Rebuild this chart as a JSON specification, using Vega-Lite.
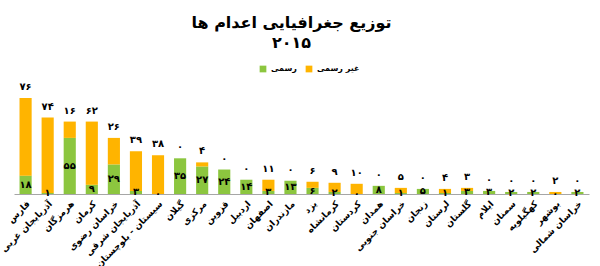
{
  "$schema": "https://vega.github.io/schema/vega-lite/v6.json",
  "width": 575,
  "height": 102,
  "autosize": {"type": "none"},
  "padding": {"left": 14, "top": 92, "right": 11, "bottom": 72},
  "background": "white",
  "title": {
    "text": "توزیع جغرافیایی اعدام ها",
    "subtitle": "۲۰۱۵",
    "font": "DejaVu Sans",
    "fontSize": 16,
    "fontWeight": "bold",
    "subtitleFont": "DejaVu Sans",
    "subtitleFontSize": 16,
    "subtitleFontWeight": "bold",
    "subtitleColor": "#000000",
    "subtitlePadding": 4,
    "anchor": "middle",
    "dx": -10,
    "color": "#000000",
    "offset": 14
  },
  "data": {
    "values": [
      {"p": "فارس", "t": "رسمی", "v": 18, "l": "۱۸"},
      {"p": "فارس", "t": "غیر رسمی", "v": 76, "l": "۷۶"},
      {"p": "آذربایجان غربی", "t": "رسمی", "v": 1, "l": "۱"},
      {"p": "آذربایجان غربی", "t": "غیر رسمی", "v": 74, "l": "۷۴"},
      {"p": "هرمزگان", "t": "رسمی", "v": 55, "l": "۵۵"},
      {"p": "هرمزگان", "t": "غیر رسمی", "v": 16, "l": "۱۶"},
      {"p": "کرمان", "t": "رسمی", "v": 9, "l": "۹"},
      {"p": "کرمان", "t": "غیر رسمی", "v": 62, "l": "۶۲"},
      {"p": "خراسان رضوی", "t": "رسمی", "v": 29, "l": "۲۹"},
      {"p": "خراسان رضوی", "t": "غیر رسمی", "v": 26, "l": "۲۶"},
      {"p": "آذربایجان شرقی", "t": "رسمی", "v": 3, "l": "۳"},
      {"p": "آذربایجان شرقی", "t": "غیر رسمی", "v": 39, "l": "۳۹"},
      {"p": "سیستان - بلوچستان", "t": "رسمی", "v": 0, "l": "۰"},
      {"p": "سیستان - بلوچستان", "t": "غیر رسمی", "v": 38, "l": "۳۸"},
      {"p": "گیلان", "t": "رسمی", "v": 35, "l": "۳۵"},
      {"p": "گیلان", "t": "غیر رسمی", "v": 0, "l": "۰"},
      {"p": "مرکزی", "t": "رسمی", "v": 27, "l": "۲۷"},
      {"p": "مرکزی", "t": "غیر رسمی", "v": 4, "l": "۴"},
      {"p": "قزوین", "t": "رسمی", "v": 24, "l": "۲۴"},
      {"p": "قزوین", "t": "غیر رسمی", "v": 0, "l": "۰"},
      {"p": "اردبیل", "t": "رسمی", "v": 14, "l": "۱۴"},
      {"p": "اردبیل", "t": "غیر رسمی", "v": 0, "l": "۰"},
      {"p": "اصفهان", "t": "رسمی", "v": 3, "l": "۳"},
      {"p": "اصفهان", "t": "غیر رسمی", "v": 11, "l": "۱۱"},
      {"p": "مازندران", "t": "رسمی", "v": 13, "l": "۱۳"},
      {"p": "مازندران", "t": "غیر رسمی", "v": 0, "l": "۰"},
      {"p": "یزد", "t": "رسمی", "v": 6, "l": "۶"},
      {"p": "یزد", "t": "غیر رسمی", "v": 6, "l": "۶"},
      {"p": "کرمانشاه", "t": "رسمی", "v": 2, "l": "۲"},
      {"p": "کرمانشاه", "t": "غیر رسمی", "v": 9, "l": "۹"},
      {"p": "کردستان", "t": "رسمی", "v": 0, "l": "۰"},
      {"p": "کردستان", "t": "غیر رسمی", "v": 10, "l": "۱۰"},
      {"p": "همدان", "t": "رسمی", "v": 8, "l": "۸"},
      {"p": "همدان", "t": "غیر رسمی", "v": 0, "l": "۰"},
      {"p": "خراسان جنوبی", "t": "رسمی", "v": 1, "l": "۱"},
      {"p": "خراسان جنوبی", "t": "غیر رسمی", "v": 5, "l": "۵"},
      {"p": "زنجان", "t": "رسمی", "v": 5, "l": "۵"},
      {"p": "زنجان", "t": "غیر رسمی", "v": 0, "l": "۰"},
      {"p": "لرستان", "t": "رسمی", "v": 1, "l": "۱"},
      {"p": "لرستان", "t": "غیر رسمی", "v": 4, "l": "۴"},
      {"p": "گلستان", "t": "رسمی", "v": 3, "l": "۳"},
      {"p": "گلستان", "t": "غیر رسمی", "v": 3, "l": "۳"},
      {"p": "ایلام", "t": "رسمی", "v": 3, "l": "۳"},
      {"p": "ایلام", "t": "غیر رسمی", "v": 0, "l": "۰"},
      {"p": "سمنان", "t": "رسمی", "v": 2, "l": "۲"},
      {"p": "سمنان", "t": "غیر رسمی", "v": 0, "l": "۰"},
      {"p": "کهگیلویه", "t": "رسمی", "v": 2, "l": "۲"},
      {"p": "کهگیلویه", "t": "غیر رسمی", "v": 0, "l": "۰"},
      {"p": "بوشهر", "t": "رسمی", "v": 0, "l": "۰"},
      {"p": "بوشهر", "t": "غیر رسمی", "v": 2, "l": "۲"},
      {"p": "خراسان شمالی", "t": "رسمی", "v": 2, "l": "۲"},
      {"p": "خراسان شمالی", "t": "غیر رسمی", "v": 0, "l": "۰"}
    ]
  },
  "encoding": {
    "x": {
      "field": "p",
      "type": "nominal",
      "sort": null,
      "scale": {"paddingInner": 0.45, "paddingOuter": 0.25},
      "axis": {
        "title": null,
        "ticks": false,
        "labelAngle": -45,
        "labelFont": "DejaVu Sans",
        "labelFontSize": 9,
        "labelFontWeight": "bold",
        "labelColor": "#000000",
        "labelPadding": 5,
        "labelLimit": 200,
        "domainColor": "#a6a6a6"
      }
    }
  },
  "layer": [
    {
      "mark": {"type": "bar"},
      "encoding": {
        "y": {"field": "v", "type": "quantitative", "stack": "zero", "scale": {"domain": [0, 100]}, "axis": null},
        "color": {
          "field": "t",
          "type": "nominal",
          "scale": {"domain": ["رسمی", "غیر رسمی"], "range": ["#8cc63f", "#ffb400"]},
          "legend": {
            "title": null,
            "orient": "none",
            "legendX": 245,
            "legendY": -27,
            "direction": "horizontal",
            "gridAlign": "none",
            "symbolType": "square",
            "symbolSize": 45,
            "symbolStrokeWidth": 0,
            "labelFont": "DejaVu Sans",
            "labelFontSize": 8,
            "labelFontWeight": "bold",
            "labelColor": "#000000",
            "labelOffset": 4,
            "columnPadding": 8
          }
        },
        "order": {"field": "t", "sort": "ascending"}
      }
    },
    {
      "mark": {"type": "text", "font": "DejaVu Sans", "fontSize": 10, "fontWeight": "bold", "color": "#000000", "dy": -11},
      "encoding": {
        "y": {"field": "v", "type": "quantitative", "stack": "zero", "scale": {"domain": [0, 100]}, "axis": null},
        "detail": {"field": "t"},
        "order": {"field": "t", "sort": "ascending"},
        "text": {"condition": {"test": "datum.t === 'رسمی'", "value": ""}, "field": "l", "type": "nominal"}
      }
    },
    {
      "transform": [{"filter": "datum.t === 'رسمی'"}],
      "mark": {"type": "text", "font": "DejaVu Sans", "fontSize": 10, "fontWeight": "bold", "color": "#000000"},
      "encoding": {
        "y": {"field": "v", "type": "quantitative", "scale": {"domain": [0, 200]}, "axis": null},
        "text": {"field": "l", "type": "nominal"}
      }
    }
  ],
  "resolve": {"scale": {"y": "independent"}},
  "config": {
    "view": {"stroke": null}
  }
}
